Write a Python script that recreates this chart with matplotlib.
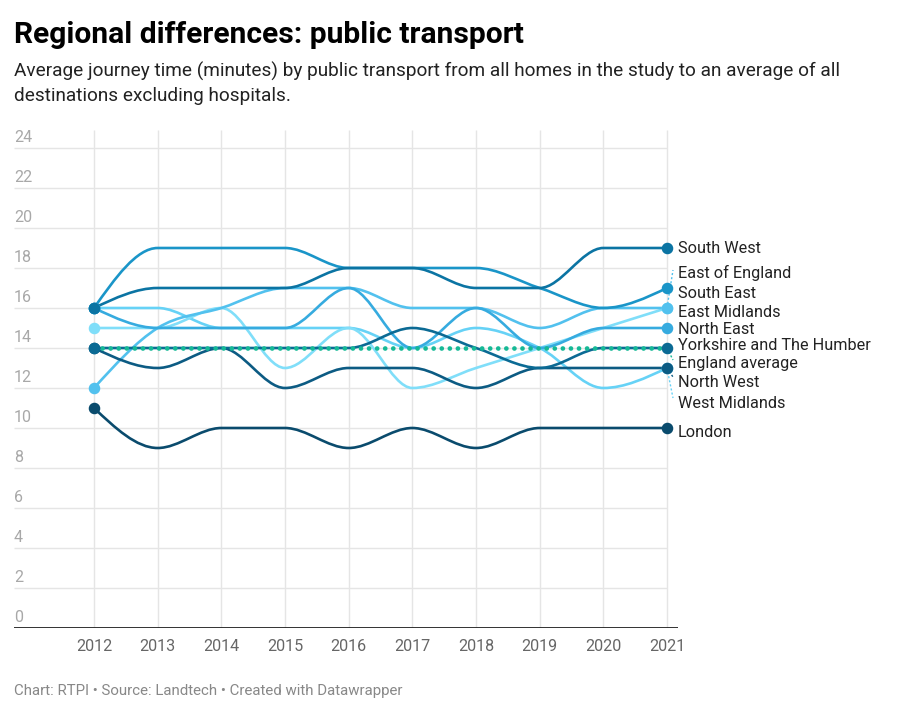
import numpy as np
import matplotlib
matplotlib.use("Agg")
import matplotlib.pyplot as plt
from matplotlib.path import Path
from matplotlib.patches import PathPatch

plt.rcParams['font.family'] = ['Roboto', 'DejaVu Sans']

# ---------------- data ----------------
years = [2012, 2013, 2014, 2015, 2016, 2017, 2018, 2019, 2020, 2021]
south_west      = [16, 17, 17, 17, 18, 18, 17, 17, 19, 19]
south_east      = [16, 19, 19, 19, 18, 18, 18, 17, 16, 17]
east_of_england = [12, 15, 16, 17, 17, 16, 16, 15, 16, 16]
north_east      = [16, 15, 15, 15, 17, 14, 16, 14, 15, 15]
east_midlands   = [15, 15, 16, 13, 15, 12, 13, 14, 15, 16]
west_midlands   = [16, 16, 15, 15, 15, 14, 15, 14, 12, 13]
yorkshire       = [14, 14, 14, 14, 14, 15, 14, 13, 14, 14]
england_average = [14, 14, 14, 14, 14, 14, 14, 14, 14, 14]
north_west      = [14, 13, 14, 12, 13, 13, 12, 13, 13, 13]
london          = [11, 9, 10, 10, 9, 10, 9, 10, 10, 10]

y_ticks = [0, 2, 4, 6, 8, 10, 12, 14, 16, 18, 20, 22, 24]

# ---------------- style ----------------
series = [
    ("West Midlands", west_midlands, "#66d2f6"),
    ("East Midlands", east_midlands, "#80def9"),
    ("East of England", east_of_england, "#52c1ee"),
    ("North East", north_east, "#36abdf"),
    ("South East", south_east, "#1a95c8"),
    ("London", london, "#0a4b6d"),
    ("North West", north_west, "#0c5b83"),
    ("Yorkshire and The Humber", yorkshire, "#0b6a94"),
    ("South West", south_west, "#0b74a3"),
]
avg_color = "#15b996"

# label baselines in pixels (layout only)
label_base_px = {
    "South West": 253, "East of England": 278, "South East": 298,
    "East Midlands": 317, "North East": 334, "Yorkshire and The Humber": 350,
    "England average": 368, "North West": 387, "West Midlands": 408, "London": 437,
}
leaders = {"East of England": 270, "England average": 360,
           "North West": 377, "West Midlands": 398}

W, H = 900, 714
fig = plt.figure(figsize=(W / 100, H / 100), dpi=100)
ax_left, ax_right, ax_top, ax_bottom = 14, 678, 130, 628
ax = fig.add_axes([ax_left / W, 1 - ax_bottom / H, (ax_right - ax_left) / W, (ax_bottom - ax_top) / H])
px_per_year = (667 - 94) / 9.0
x0 = years[0] - (94 - ax_left) / px_per_year
x1 = years[-1] + (ax_right - 667) / px_per_year
ax.set_xlim(x0, x1)
ax.set_ylim(0, (ax_bottom - ax_top) / 20.0)
ax.axis("off")


def px_to_val(ypx):
    return (ax_bottom - ypx) / 20.0


grid_c = "#e5e5e5"
for v in y_ticks[1:]:
    ax.plot([x0, years[-1]], [v, v], color=grid_c, lw=1.0, zorder=1, solid_capstyle="butt")
for v in y_ticks:
    ax.text(x0, v + 0.3, str(v), color="#a8a8a8", fontsize=11.5, va="baseline", ha="left", zorder=2)
for yr in years:
    ax.plot([yr, yr], [0, ax.get_ylim()[1]], color=grid_c, lw=1.0, zorder=1, solid_capstyle="butt")
ax.plot([x0, x1], [0, 0], color="#222222", lw=1.3, zorder=6, solid_capstyle="butt")
for yr in years:
    ax.text(yr, -1.15, str(yr), color="#666666", fontsize=11.6, ha="center", va="baseline")


def monotone_path(xs, ys):
    xs = np.asarray(xs, float)
    ys = np.asarray(ys, float)
    n = len(xs)
    h = np.diff(xs)
    s = np.diff(ys) / h
    t = np.zeros(n)
    for i in range(1, n - 1):
        h0, h1 = h[i - 1], h[i]
        s0, s1 = s[i - 1], s[i]
        p = (s0 * h1 + s1 * h0) / (h0 + h1)
        t[i] = (np.sign(s0) + np.sign(s1)) * min(abs(s0), abs(s1), 0.5 * abs(p))
    t[0] = (3 * s[0] - t[1]) / 2
    t[-1] = (3 * s[-1] - t[-2]) / 2
    verts = [(xs[0], ys[0])]
    codes = [Path.MOVETO]
    for i in range(n - 1):
        dx = h[i]
        verts += [(xs[i] + dx / 3, ys[i] + dx * t[i] / 3),
                  (xs[i + 1] - dx / 3, ys[i + 1] - dx * t[i + 1] / 3),
                  (xs[i + 1], ys[i + 1])]
        codes += [Path.CURVE4] * 3
    return Path(verts, codes)


for name, vals, col in series:
    ax.add_patch(PathPatch(monotone_path(years, vals), facecolor="none", edgecolor=col,
                           lw=1.9, zorder=3, capstyle="round", joinstyle="round"))
    if name == "Yorkshire and The Humber":
        ax.plot(years, england_average, color=avg_color, lw=3.4, ls=(0, (0.01, 1.7)),
                dash_capstyle="round", zorder=3.5)

for name, vals, col in series:
    ax.plot([years[0], years[-1]], [vals[0], vals[-1]], ls="none", marker="o", ms=7.3,
            mfc=col, mec=col, zorder=5)

# labels
colors = {n: c for n, _, c in series}
colors["England average"] = avg_color
ends = {n: v[-1] for n, v, _ in series}
ends["England average"] = england_average[-1]
label_x = years[-1] + (678 - 667) / px_per_year
for name, base in label_base_px.items():
    ax.text(label_x, px_to_val(base), name, fontsize=11.7, color="#222222",
            ha="left", va="baseline", zorder=7, clip_on=False)
for name, lp in leaders.items():
    ax.plot([years[-1], years[-1] + 6 / px_per_year], [ends[name], px_to_val(lp)],
            color=colors[name], lw=1.0, ls=(0, (1.5, 1.5)), zorder=4, clip_on=False)

fig.text(14 / W, 1 - 43 / H, "Regional differences: public transport", fontsize=21.6,
         fontweight="bold", color="#000000", va="baseline", ha="left")
fig.text(14 / W, 1 - 77 / H,
         "Average journey time (minutes) by public transport from all homes in the study to an average of all",
         fontsize=13.7, color="#222222", va="baseline", ha="left")
fig.text(14 / W, 1 - 101 / H, "destinations excluding hospitals.",
         fontsize=13.7, color="#222222", va="baseline", ha="left")
fig.text(14 / W, 1 - 695 / H, "Chart: RTPI \u2022 Source: Landtech \u2022 Created with Datawrapper",
         fontsize=10.8, color="#888888", va="baseline", ha="left")

fig.savefig("out.png", dpi=100)
